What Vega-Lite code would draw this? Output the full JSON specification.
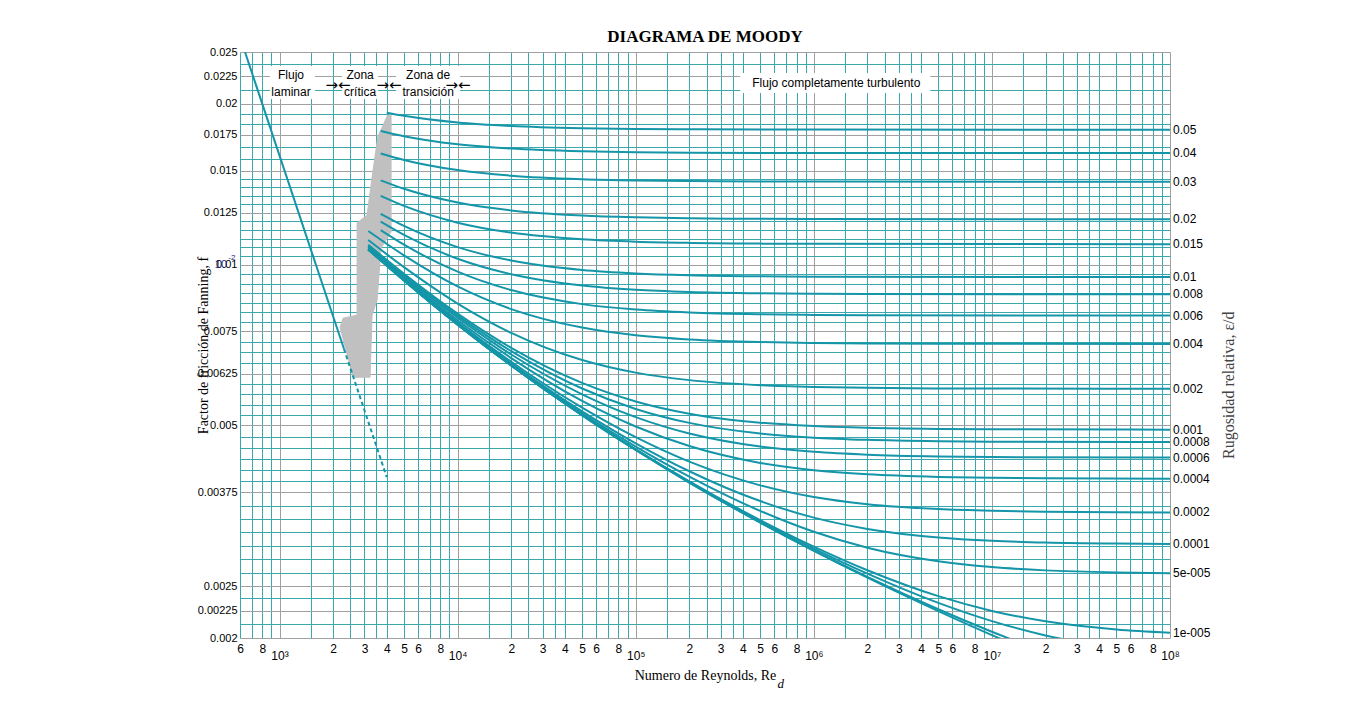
{
  "$schema": "https://vega.github.io/schema/vega-lite/v6.json",
  "width": 930,
  "height": 586,
  "autosize": "none",
  "padding": {"left": 240, "top": 52, "right": 196, "bottom": 80},
  "background": "white",
  "title": {"text": "DIAGRAMA DE MOODY", "font": "Liberation Serif", "fontSize": 17, "fontWeight": "bold", "color": "#000000", "offset": 0},
  "config": {"view": {"stroke": null}},
  "datasets": {
    "zone": [
      {"i": 1, "Re": 4000, "f": 0.01897}, {"i": 2, "Re": 4231, "f": 0.01914}, {"i": 3, "Re": 4231, "f": 0.011507},
      {"i": 4, "Re": 3718, "f": 0.010738}, {"i": 5, "Re": 3530, "f": 0.008579}, {"i": 6, "Re": 3309, "f": 0.008042},
      {"i": 7, "Re": 3225, "f": 0.006154}, {"i": 8, "Re": 2588, "f": 0.006154}, {"i": 9, "Re": 2188, "f": 0.007637},
      {"i": 10, "Re": 2274, "f": 0.007939}, {"i": 11, "Re": 2726, "f": 0.008042}, {"i": 12, "Re": 2726, "f": 0.011962},
      {"i": 13, "Re": 3102, "f": 0.012382}, {"i": 14, "Re": 3352, "f": 0.015031}, {"i": 15, "Re": 3576, "f": 0.017474}
    ],
    "boxes": [
      {"Re": 884, "Re2": 1583, "f": 0.023536, "f2": 0.020414},
      {"Re": 2245, "Re2": 3577, "f": 0.023536, "f2": 0.020414},
      {"Re": 4513, "Re2": 10328, "f": 0.023536, "f2": 0.020414},
      {"Re": 386500, "Re2": 4513000, "f": 0.022837, "f2": 0.020951}
    ],
    "lamSolid": [{"Re": 640, "f": 0.025}, {"Re": 2300, "f": 0.0069565}],
    "lamDash": [{"Re": 2300, "f": 0.0069565}, {"Re": 4000, "f": 0.004}],
    "curves": [
      {"e": "0.05", "Re": 4000, "f": 0.01925}, {"e": "0.05", "Re": 5000, "f": 0.01899}, {"e": "0.05", "Re": 10000, "f": 0.01845}, {"e": "0.05", "Re": 20000, "f": 0.01817}, {"e": "0.05", "Re": 50000, "f": 0.018}, {"e": "0.05", "Re": 100000, "f": 0.017945}, {"e": "0.05", "Re": 200000, "f": 0.01792}, {"e": "0.05", "Re": 500000, "f": 0.0179}, {"e": "0.05", "Re": 1000000, "f": 0.017894}, {"e": "0.05", "Re": 100000000, "f": 0.017888},
      {"e": "0.04", "Re": 3700, "f": 0.01779}, {"e": "0.04", "Re": 5000, "f": 0.017391}, {"e": "0.04", "Re": 10000, "f": 0.016798}, {"e": "0.04", "Re": 20000, "f": 0.016489}, {"e": "0.04", "Re": 50000, "f": 0.016298}, {"e": "0.04", "Re": 100000, "f": 0.016233}, {"e": "0.04", "Re": 200000, "f": 0.0162}, {"e": "0.04", "Re": 1000000, "f": 0.016174}, {"e": "0.04", "Re": 100000000, "f": 0.016168},
      {"e": "0.03", "Re": 3700, "f": 0.016146}, {"e": "0.03", "Re": 5000, "f": 0.0157}, {"e": "0.03", "Re": 10000, "f": 0.015027}, {"e": "0.03", "Re": 20000, "f": 0.014668}, {"e": "0.03", "Re": 50000, "f": 0.014446}, {"e": "0.03", "Re": 100000, "f": 0.01437}, {"e": "0.03", "Re": 200000, "f": 0.014332}, {"e": "0.03", "Re": 500000, "f": 0.014309}, {"e": "0.03", "Re": 1000000, "f": 0.014301}, {"e": "0.03", "Re": 100000000, "f": 0.014293},
      {"e": "0.02", "Re": 3700, "f": 0.01438}, {"e": "0.02", "Re": 5000, "f": 0.013867}, {"e": "0.02", "Re": 10000, "f": 0.013068}, {"e": "0.02", "Re": 20000, "f": 0.01263}, {"e": "0.02", "Re": 50000, "f": 0.012352}, {"e": "0.02", "Re": 100000, "f": 0.012257}, {"e": "0.02", "Re": 200000, "f": 0.012209}, {"e": "0.02", "Re": 500000, "f": 0.012179}, {"e": "0.02", "Re": 1000000, "f": 0.012169}, {"e": "0.02", "Re": 100000000, "f": 0.012159},
      {"e": "0.015", "Re": 3700, "f": 0.013446}, {"e": "0.015", "Re": 5000, "f": 0.012876}, {"e": "0.015", "Re": 10000, "f": 0.011981}, {"e": "0.015", "Re": 20000, "f": 0.011478}, {"e": "0.015", "Re": 50000, "f": 0.011152}, {"e": "0.015", "Re": 100000, "f": 0.011038}, {"e": "0.015", "Re": 200000, "f": 0.010981}, {"e": "0.015", "Re": 500000, "f": 0.010946}, {"e": "0.015", "Re": 1000000, "f": 0.010934}, {"e": "0.015", "Re": 100000000, "f": 0.010922},
      {"e": "0.01", "Re": 3700, "f": 0.01245}, {"e": "0.01", "Re": 5000, "f": 0.011815}, {"e": "0.01", "Re": 10000, "f": 0.010781}, {"e": "0.01", "Re": 20000, "f": 0.010176}, {"e": "0.01", "Re": 50000, "f": 0.00977}, {"e": "0.01", "Re": 100000, "f": 0.0096255}, {"e": "0.01", "Re": 200000, "f": 0.0095513}, {"e": "0.01", "Re": 500000, "f": 0.0095063}, {"e": "0.01", "Re": 1000000, "f": 0.0094912}, {"e": "0.01", "Re": 100000000, "f": 0.0094759},
      {"e": "0.008", "Re": 3700, "f": 0.012032}, {"e": "0.008", "Re": 5000, "f": 0.011363}, {"e": "0.008", "Re": 10000, "f": 0.010255}, {"e": "0.008", "Re": 20000, "f": 0.0095932}, {"e": "0.008", "Re": 50000, "f": 0.0091372}, {"e": "0.008", "Re": 100000, "f": 0.0089719}, {"e": "0.008", "Re": 200000, "f": 0.0088867}, {"e": "0.008", "Re": 500000, "f": 0.0088346}, {"e": "0.008", "Re": 1000000, "f": 0.008817}, {"e": "0.008", "Re": 2000000, "f": 0.008808}, {"e": "0.008", "Re": 100000000, "f": 0.0087993},
      {"e": "0.006", "Re": 3700, "f": 0.011601}, {"e": "0.006", "Re": 5000, "f": 0.010895}, {"e": "0.006", "Re": 10000, "f": 0.0097011}, {"e": "0.006", "Re": 20000, "f": 0.0089593}, {"e": "0.006", "Re": 50000, "f": 0.0084336}, {"e": "0.006", "Re": 100000, "f": 0.0082375}, {"e": "0.006", "Re": 200000, "f": 0.0081342}, {"e": "0.006", "Re": 500000, "f": 0.0080715}, {"e": "0.006", "Re": 1000000, "f": 0.0080503}, {"e": "0.006", "Re": 2000000, "f": 0.0080397}, {"e": "0.006", "Re": 100000000, "f": 0.0080289},
      {"e": "0.004", "Re": 3150, "f": 0.011558}, {"e": "0.004", "Re": 5000, "f": 0.010406}, {"e": "0.004", "Re": 10000, "f": 0.0091023}, {"e": "0.004", "Re": 20000, "f": 0.0082546}, {"e": "0.004", "Re": 50000, "f": 0.0076217}, {"e": "0.004", "Re": 100000, "f": 0.0073748}, {"e": "0.004", "Re": 200000, "f": 0.0072432}, {"e": "0.004", "Re": 500000, "f": 0.0071607}, {"e": "0.004", "Re": 1000000, "f": 0.0071325}, {"e": "0.004", "Re": 2000000, "f": 0.0071183}, {"e": "0.004", "Re": 5000000, "f": 0.0071096}, {"e": "0.004", "Re": 100000000, "f": 0.0071039},
      {"e": "0.002", "Re": 3150, "f": 0.011115}, {"e": "0.002", "Re": 5000, "f": 0.0098897}, {"e": "0.002", "Re": 10000, "f": 0.0084539}, {"e": "0.002", "Re": 20000, "f": 0.0074511}, {"e": "0.002", "Re": 50000, "f": 0.0066277}, {"e": "0.002", "Re": 100000, "f": 0.0062775}, {"e": "0.002", "Re": 200000, "f": 0.0060777}, {"e": "0.002", "Re": 500000, "f": 0.0059473}, {"e": "0.002", "Re": 1000000, "f": 0.0059018}, {"e": "0.002", "Re": 2000000, "f": 0.0058786}, {"e": "0.002", "Re": 5000000, "f": 0.0058645}, {"e": "0.002", "Re": 10000000, "f": 0.0058598}, {"e": "0.002", "Re": 100000000, "f": 0.0058556},
      {"e": "0.001", "Re": 3150, "f": 0.01089}, {"e": "0.001", "Re": 5000, "f": 0.0096124}, {"e": "0.001", "Re": 10000, "f": 0.0080948}, {"e": "0.001", "Re": 20000, "f": 0.0069851}, {"e": "0.001", "Re": 50000, "f": 0.0060056}, {"e": "0.001", "Re": 100000, "f": 0.0055448}, {"e": "0.001", "Re": 200000, "f": 0.0052593}, {"e": "0.001", "Re": 500000, "f": 0.005059}, {"e": "0.001", "Re": 1000000, "f": 0.0049858}, {"e": "0.001", "Re": 2000000, "f": 0.0049479}, {"e": "0.001", "Re": 5000000, "f": 0.0049246}, {"e": "0.001", "Re": 10000000, "f": 0.0049167}, {"e": "0.001", "Re": 100000000, "f": 0.0049097},
      {"e": "0.0008", "Re": 3150, "f": 0.010851}, {"e": "0.0008", "Re": 5000, "f": 0.0095644}, {"e": "0.0008", "Re": 10000, "f": 0.0080254}, {"e": "0.0008", "Re": 20000, "f": 0.0068869}, {"e": "0.0008", "Re": 50000, "f": 0.0058622}, {"e": "0.0008", "Re": 100000, "f": 0.0053677}, {"e": "0.0008", "Re": 200000, "f": 0.0050546}, {"e": "0.0008", "Re": 500000, "f": 0.0048279}, {"e": "0.0008", "Re": 1000000, "f": 0.0047432}, {"e": "0.0008", "Re": 2000000, "f": 0.0046988}, {"e": "0.0008", "Re": 5000000, "f": 0.0046713}, {"e": "0.0008", "Re": 10000000, "f": 0.0046621}, {"e": "0.0008", "Re": 100000000, "f": 0.0046536},
      {"e": "0.0006", "Re": 3150, "f": 0.010803}, {"e": "0.0006", "Re": 5000, "f": 0.0095171}, {"e": "0.0006", "Re": 10000, "f": 0.0079552}, {"e": "0.0006", "Re": 20000, "f": 0.0067874}, {"e": "0.0006", "Re": 50000, "f": 0.0057176}, {"e": "0.0006", "Re": 100000, "f": 0.0051818}, {"e": "0.0006", "Re": 200000, "f": 0.0048284}, {"e": "0.0006", "Re": 500000, "f": 0.0045643}, {"e": "0.0006", "Re": 1000000, "f": 0.0044623}, {"e": "0.0006", "Re": 2000000, "f": 0.004408}, {"e": "0.0006", "Re": 5000000, "f": 0.0043741}, {"e": "0.0006", "Re": 10000000, "f": 0.0043626}, {"e": "0.0006", "Re": 100000000, "f": 0.0043521},
      {"e": "0.0004", "Re": 3150, "f": 0.010761}, {"e": "0.0004", "Re": 5000, "f": 0.0094575}, {"e": "0.0004", "Re": 10000, "f": 0.0078696}, {"e": "0.0004", "Re": 20000, "f": 0.006683}, {"e": "0.0004", "Re": 50000, "f": 0.0055579}, {"e": "0.0004", "Re": 100000, "f": 0.004977}, {"e": "0.0004", "Re": 200000, "f": 0.004574}, {"e": "0.0004", "Re": 500000, "f": 0.0042531}, {"e": "0.0004", "Re": 1000000, "f": 0.0041222}, {"e": "0.0004", "Re": 2000000, "f": 0.0040503}, {"e": "0.0004", "Re": 5000000, "f": 0.0040048}, {"e": "0.0004", "Re": 10000000, "f": 0.0039892}, {"e": "0.0004", "Re": 20000000, "f": 0.0039812}, {"e": "0.0004", "Re": 100000000, "f": 0.0039749},
      {"e": "0.0002", "Re": 3150, "f": 0.010714}, {"e": "0.0002", "Re": 5000, "f": 0.0094045}, {"e": "0.0002", "Re": 10000, "f": 0.0077972}, {"e": "0.0002", "Re": 20000, "f": 0.0065778}, {"e": "0.0002", "Re": 50000, "f": 0.005398}, {"e": "0.0002", "Re": 100000, "f": 0.0047524}, {"e": "0.0002", "Re": 200000, "f": 0.0042763}, {"e": "0.0002", "Re": 500000, "f": 0.0038616}, {"e": "0.0002", "Re": 1000000, "f": 0.0036711}, {"e": "0.0002", "Re": 2000000, "f": 0.00356}, {"e": "0.0002", "Re": 5000000, "f": 0.0034858}, {"e": "0.0002", "Re": 10000000, "f": 0.0034596}, {"e": "0.0002", "Re": 20000000, "f": 0.0034462}, {"e": "0.0002", "Re": 50000000, "f": 0.003438}, {"e": "0.0002", "Re": 100000000, "f": 0.0034352},
      {"e": "0.0001", "Re": 3150, "f": 0.010686}, {"e": "0.0001", "Re": 5000, "f": 0.0093738}, {"e": "0.0001", "Re": 10000, "f": 0.0077591}, {"e": "0.0001", "Re": 20000, "f": 0.006526}, {"e": "0.0001", "Re": 50000, "f": 0.0053122}, {"e": "0.0001", "Re": 100000, "f": 0.0046293}, {"e": "0.0001", "Re": 200000, "f": 0.0041037}, {"e": "0.0001", "Re": 500000, "f": 0.0036087}, {"e": "0.0001", "Re": 1000000, "f": 0.0033604}, {"e": "0.0001", "Re": 2000000, "f": 0.0032008}, {"e": "0.0001", "Re": 5000000, "f": 0.0030849}, {"e": "0.0001", "Re": 10000000, "f": 0.0030415}, {"e": "0.0001", "Re": 20000000, "f": 0.0030186}, {"e": "0.0001", "Re": 50000000, "f": 0.0030045}, {"e": "0.0001", "Re": 100000000, "f": 0.0029998},
      {"e": "5e-5", "Re": 3150, "f": 0.01068}, {"e": "5e-5", "Re": 5000, "f": 0.0093575}, {"e": "5e-5", "Re": 10000, "f": 0.00774}, {"e": "5e-5", "Re": 20000, "f": 0.0064979}, {"e": "5e-5", "Re": 50000, "f": 0.0052675}, {"e": "5e-5", "Re": 100000, "f": 0.0045645}, {"e": "5e-5", "Re": 200000, "f": 0.0040099}, {"e": "5e-5", "Re": 500000, "f": 0.0034588}, {"e": "5e-5", "Re": 1000000, "f": 0.0031612}, {"e": "5e-5", "Re": 2000000, "f": 0.0029516}, {"e": "5e-5", "Re": 5000000, "f": 0.0027837}, {"e": "5e-5", "Re": 10000000, "f": 0.0027149}, {"e": "5e-5", "Re": 20000000, "f": 0.0026768}, {"e": "5e-5", "Re": 50000000, "f": 0.0026528}, {"e": "5e-5", "Re": 100000000, "f": 0.0026446},
      {"e": "1e-5", "Re": 3150, "f": 0.01067}, {"e": "1e-5", "Re": 5000, "f": 0.0093445}, {"e": "1e-5", "Re": 10000, "f": 0.0077254}, {"e": "1e-5", "Re": 20000, "f": 0.0064771}, {"e": "1e-5", "Re": 50000, "f": 0.0052321}, {"e": "1e-5", "Re": 100000, "f": 0.0045111}, {"e": "1e-5", "Re": 200000, "f": 0.0039297}, {"e": "1e-5", "Re": 500000, "f": 0.0033243}, {"e": "1e-5", "Re": 1000000, "f": 0.0029655}, {"e": "1e-5", "Re": 2000000, "f": 0.002678}, {"e": "1e-5", "Re": 5000000, "f": 0.0023952}, {"e": "1e-5", "Re": 10000000, "f": 0.0022477}, {"e": "1e-5", "Re": 20000000, "f": 0.0021495}, {"e": "1e-5", "Re": 50000000, "f": 0.0020753}, {"e": "1e-5", "Re": 100000000, "f": 0.0020467},
      {"e": "5e-6", "Re": 3150, "f": 0.01067}, {"e": "5e-6", "Re": 5000, "f": 0.009342}, {"e": "5e-6", "Re": 10000, "f": 0.007723}, {"e": "5e-6", "Re": 20000, "f": 0.006475}, {"e": "5e-6", "Re": 50000, "f": 0.005229}, {"e": "5e-6", "Re": 100000, "f": 0.0045035}, {"e": "5e-6", "Re": 200000, "f": 0.0039183}, {"e": "5e-6", "Re": 500000, "f": 0.0033075}, {"e": "5e-6", "Re": 1000000, "f": 0.0029398}, {"e": "5e-6", "Re": 2000000, "f": 0.0026386}, {"e": "5e-6", "Re": 5000000, "f": 0.0023266}, {"e": "5e-6", "Re": 10000000, "f": 0.002151}, {"e": "5e-6", "Re": 20000000, "f": 0.0020222}, {"e": "5e-6", "Re": 50000000, "f": 0.001914},
      {"e": "1e-6", "Re": 3150, "f": 0.01067}, {"e": "1e-6", "Re": 5000, "f": 0.00934}, {"e": "1e-6", "Re": 10000, "f": 0.007721}, {"e": "1e-6", "Re": 20000, "f": 0.006473}, {"e": "1e-6", "Re": 50000, "f": 0.005223}, {"e": "1e-6", "Re": 100000, "f": 0.004498}, {"e": "1e-6", "Re": 200000, "f": 0.003909}, {"e": "1e-6", "Re": 500000, "f": 0.003292}, {"e": "1e-6", "Re": 1000000, "f": 0.0029177}, {"e": "1e-6", "Re": 2000000, "f": 0.0026035}, {"e": "1e-6", "Re": 5000000, "f": 0.0022642}, {"e": "1e-6", "Re": 10000000, "f": 0.002055}, {"e": "1e-6", "Re": 20000000, "f": 0.0018779},
      {"e": "0", "Re": 3150, "f": 0.01067}, {"e": "0", "Re": 5000, "f": 0.00934}, {"e": "0", "Re": 10000, "f": 0.007721}, {"e": "0", "Re": 20000, "f": 0.006473}, {"e": "0", "Re": 50000, "f": 0.0052221}, {"e": "0", "Re": 100000, "f": 0.0044971}, {"e": "0", "Re": 200000, "f": 0.0039081}, {"e": "0", "Re": 500000, "f": 0.0032894}, {"e": "0", "Re": 1000000, "f": 0.0029114}, {"e": "0", "Re": 2000000, "f": 0.0025935}, {"e": "0", "Re": 5000000, "f": 0.0022457}, {"e": "0", "Re": 10000000, "f": 0.0020253}, {"e": "0", "Re": 12000000, "f": 0.0019733}
    ],
    "rlabels": [
      {"t": "0.05", "Re": 100000000, "f": 0.017888}, {"t": "0.04", "Re": 100000000, "f": 0.016168}, {"t": "0.03", "Re": 100000000, "f": 0.014293},
      {"t": "0.02", "Re": 100000000, "f": 0.012159}, {"t": "0.015", "Re": 100000000, "f": 0.010922}, {"t": "0.01", "Re": 100000000, "f": 0.0094759},
      {"t": "0.008", "Re": 100000000, "f": 0.0087993}, {"t": "0.006", "Re": 100000000, "f": 0.0080289}, {"t": "0.004", "Re": 100000000, "f": 0.0071039},
      {"t": "0.002", "Re": 100000000, "f": 0.0058556}, {"t": "0.001", "Re": 100000000, "f": 0.0049097}, {"t": "0.0008", "Re": 100000000, "f": 0.0046536},
      {"t": "0.0006", "Re": 100000000, "f": 0.0043521}, {"t": "0.0004", "Re": 100000000, "f": 0.0039749}, {"t": "0.0002", "Re": 100000000, "f": 0.0034352},
      {"t": "0.0001", "Re": 100000000, "f": 0.0029998}, {"t": "5e-005", "Re": 100000000, "f": 0.0026446}, {"t": "1e-005", "Re": 100000000, "f": 0.0020467}
    ],
    "notes": [
      {"t": "Flujo", "Re": 1160, "f": 0.022641}, {"t": "laminar", "Re": 1160, "f": 0.021034},
      {"t": "Zona", "Re": 2833, "f": 0.022641}, {"t": "crítica", "Re": 2833, "f": 0.021034},
      {"t": "Zona de", "Re": 6830, "f": 0.022641}, {"t": "transición", "Re": 6830, "f": 0.021034},
      {"t": "Flujo completamente turbulento", "Re": 1338000, "f": 0.021868}
    ],
    "arrows": [
      {"t": "→←", "Re": 2132, "f": 0.02168}, {"t": "→←", "Re": 4123, "f": 0.02168}, {"t": "→←", "Re": 10065, "f": 0.02168}
    ],
    "rtitle": [{"t": "Rugosidad relativa, ε/d", "Re": 213200000, "f": 0.005945}],
    "sub": [{"t": "d", "Re": 625000, "f": 0.0016383}],
    "tenA": [{"t": "10", "Re": 469, "f": 0.01}],
    "tenB": [{"t": "-2", "Re": 541, "f": 0.010285}]
  },
  "encoding": {
    "x": {
      "field": "Re", "type": "quantitative",
      "scale": {"type": "log", "domain": [600, 100000000], "nice": false},
      "axis": {
        "values": [600, 700, 800, 900, 1000, 1500, 2000, 2500, 3000, 3500, 4000, 5000, 6000, 7000, 8000, 9000,
          10000, 15000, 20000, 25000, 30000, 35000, 40000, 50000, 60000, 70000, 80000, 90000,
          100000, 150000, 200000, 250000, 300000, 350000, 400000, 500000, 600000, 700000, 800000, 900000,
          1000000, 1500000, 2000000, 2500000, 3000000, 3500000, 4000000, 5000000, 6000000, 7000000, 8000000, 9000000,
          10000000, 15000000, 20000000, 25000000, 30000000, 35000000, 40000000, 50000000, 60000000, 70000000, 80000000, 90000000, 100000000],
        "labelExpr": "datum.value==1000?'10³':datum.value==10000?'10⁴':datum.value==100000?'10⁵':datum.value==1000000?'10⁶':datum.value==10000000?'10⁷':datum.value==100000000?'10⁸':(indexof([2,3,4,5,6,8],datum.value/pow(10,floor(log(datum.value)/LN10+1e-9)))>=0?toString(datum.value/pow(10,floor(log(datum.value)/LN10+1e-9))):'')",
        "labelPadding": {"condition": {"test": "datum.value==1000||datum.value==10000||datum.value==100000||datum.value==1000000||datum.value==10000000||datum.value==100000000", "value": 12}, "value": 5},
        "labelOverlap": false, "labelFlush": false, "labelBound": false,
        "labelFont": "Liberation Sans", "labelFontSize": 12, "labelColor": "#000000",
        "ticks": false, "domain": false,
        "grid": true, "gridWidth": 1,
        "gridColor": {"condition": {"test": "datum.value==1000||datum.value==10000||datum.value==100000||datum.value==1000000||datum.value==10000000||datum.value==100000000", "value": "#a0a0a0"}, "value": "#3aa8ad"},
        "title": "Numero de Reynolds, Re",
        "titleFont": "Liberation Serif", "titleFontSize": 14, "titleFontWeight": "normal", "titleColor": "#000000",
        "titleY": 37, "titleBaseline": "middle"
      }
    },
    "y": {
      "field": "f", "type": "quantitative",
      "scale": {"type": "log", "domain": [0.002, 0.025], "nice": false},
      "axis": {
        "values": [0.002, 0.0021213, 0.00225, 0.0023717, 0.0025, 0.0026501, 0.0028079, 0.0029752, 0.0031524, 0.0033402, 0.0035392, 0.00375, 0.0039342, 0.0041274, 0.0043301, 0.0045428, 0.0047659, 0.005, 0.0052282, 0.0054668, 0.0057163, 0.0059772, 0.00625, 0.0065414, 0.0068465, 0.0071658, 0.0075, 0.0078139, 0.0081419, 0.0084836, 0.0088396, 0.0092106, 0.0095972, 0.01, 0.010379, 0.010772, 0.01118, 0.011604, 0.012044, 0.0125, 0.012964, 0.013446, 0.013945, 0.014463, 0.015, 0.015794, 0.016625, 0.0175, 0.018297, 0.019129, 0.02, 0.021213, 0.0225, 0.023717, 0.025],
        "labelExpr": "indexof([0.002,0.00225,0.0025,0.00375,0.005,0.00625,0.0075,0.01,0.0125,0.015,0.0175,0.02,0.0225,0.025],datum.value)>=0?toString(datum.value):''",
        "labelOverlap": false, "labelFlush": false, "labelBound": false,
        "labelFont": "Liberation Sans", "labelFontSize": 11, "labelColor": "#000000", "labelPadding": 3,
        "ticks": false, "domain": false,
        "grid": true, "gridWidth": 1,
        "gridColor": {"condition": {"test": "indexof([0.002,0.00225,0.0025,0.00375,0.005,0.00625,0.0075,0.01,0.0125,0.015,0.0175,0.02,0.0225,0.025],datum.value)>=0", "value": "#a0a0a0"}, "value": "#3aa8ad"},
        "title": "Factor de fricción de Fanning, f",
        "titleFont": "Liberation Serif", "titleFontSize": 14, "titleFontWeight": "normal", "titleColor": "#000000",
        "titleX": -37, "titleY": 293, "titleAngle": 270, "titleAlign": "center", "titleBaseline": "middle"
      }
    }
  },
  "layer": [
    {
      "data": {"name": "zone"},
      "mark": {"type": "line", "fill": "#c0c0c0", "stroke": "#c0c0c0", "strokeWidth": 1, "clip": true},
      "encoding": {"order": {"field": "i", "type": "quantitative"}}
    },
    {
      "data": {"name": "boxes"},
      "mark": {"type": "rect", "fill": "#ffffff", "stroke": null},
      "encoding": {"x2": {"field": "Re2"}, "y2": {"field": "f2"}}
    },
    {
      "data": {"name": "lamSolid"},
      "mark": {"type": "line", "color": "#1595a8", "strokeWidth": 2, "clip": true},
      "encoding": {}
    },
    {
      "data": {"name": "lamDash"},
      "mark": {"type": "line", "color": "#1595a8", "strokeWidth": 2, "strokeDash": [4, 3], "clip": true},
      "encoding": {}
    },
    {
      "data": {"name": "curves"},
      "mark": {"type": "line", "color": "#1595a8", "strokeWidth": 2, "interpolate": "monotone", "clip": true},
      "encoding": {"detail": {"field": "e", "type": "nominal"}}
    },
    {
      "data": {"name": "rlabels"},
      "mark": {"type": "text", "align": "left", "baseline": "middle", "dx": 3, "font": "Liberation Sans", "fontSize": 12, "color": "#000000"},
      "encoding": {"text": {"field": "t", "type": "nominal"}}
    },
    {
      "data": {"name": "notes"},
      "mark": {"type": "text", "align": "center", "baseline": "middle", "font": "Liberation Sans", "fontSize": 12, "color": "#000000"},
      "encoding": {"text": {"field": "t", "type": "nominal"}}
    },
    {
      "data": {"name": "arrows"},
      "mark": {"type": "text", "align": "center", "baseline": "middle", "font": "DejaVu Sans", "fontSize": 15, "color": "#000000"},
      "encoding": {"text": {"field": "t", "type": "nominal"}}
    },
    {
      "data": {"name": "rtitle"},
      "mark": {"type": "text", "align": "center", "baseline": "middle", "angle": 270, "font": "Liberation Serif", "fontSize": 16, "color": "#444444"},
      "encoding": {"text": {"field": "t", "type": "nominal"}}
    },
    {
      "data": {"name": "sub"},
      "mark": {"type": "text", "align": "left", "baseline": "middle", "font": "Liberation Serif", "fontStyle": "italic", "fontSize": 13, "color": "#000000"},
      "encoding": {"text": {"field": "t", "type": "nominal"}}
    },
    {
      "data": {"name": "tenA"},
      "mark": {"type": "text", "align": "center", "baseline": "middle", "font": "Liberation Sans", "fontSize": 11, "color": "#1a1a80"},
      "encoding": {"text": {"field": "t", "type": "nominal"}}
    },
    {
      "data": {"name": "tenB"},
      "mark": {"type": "text", "align": "center", "baseline": "middle", "font": "Liberation Sans", "fontSize": 8, "color": "#1a1a80"},
      "encoding": {"text": {"field": "t", "type": "nominal"}}
    }
  ]
}
